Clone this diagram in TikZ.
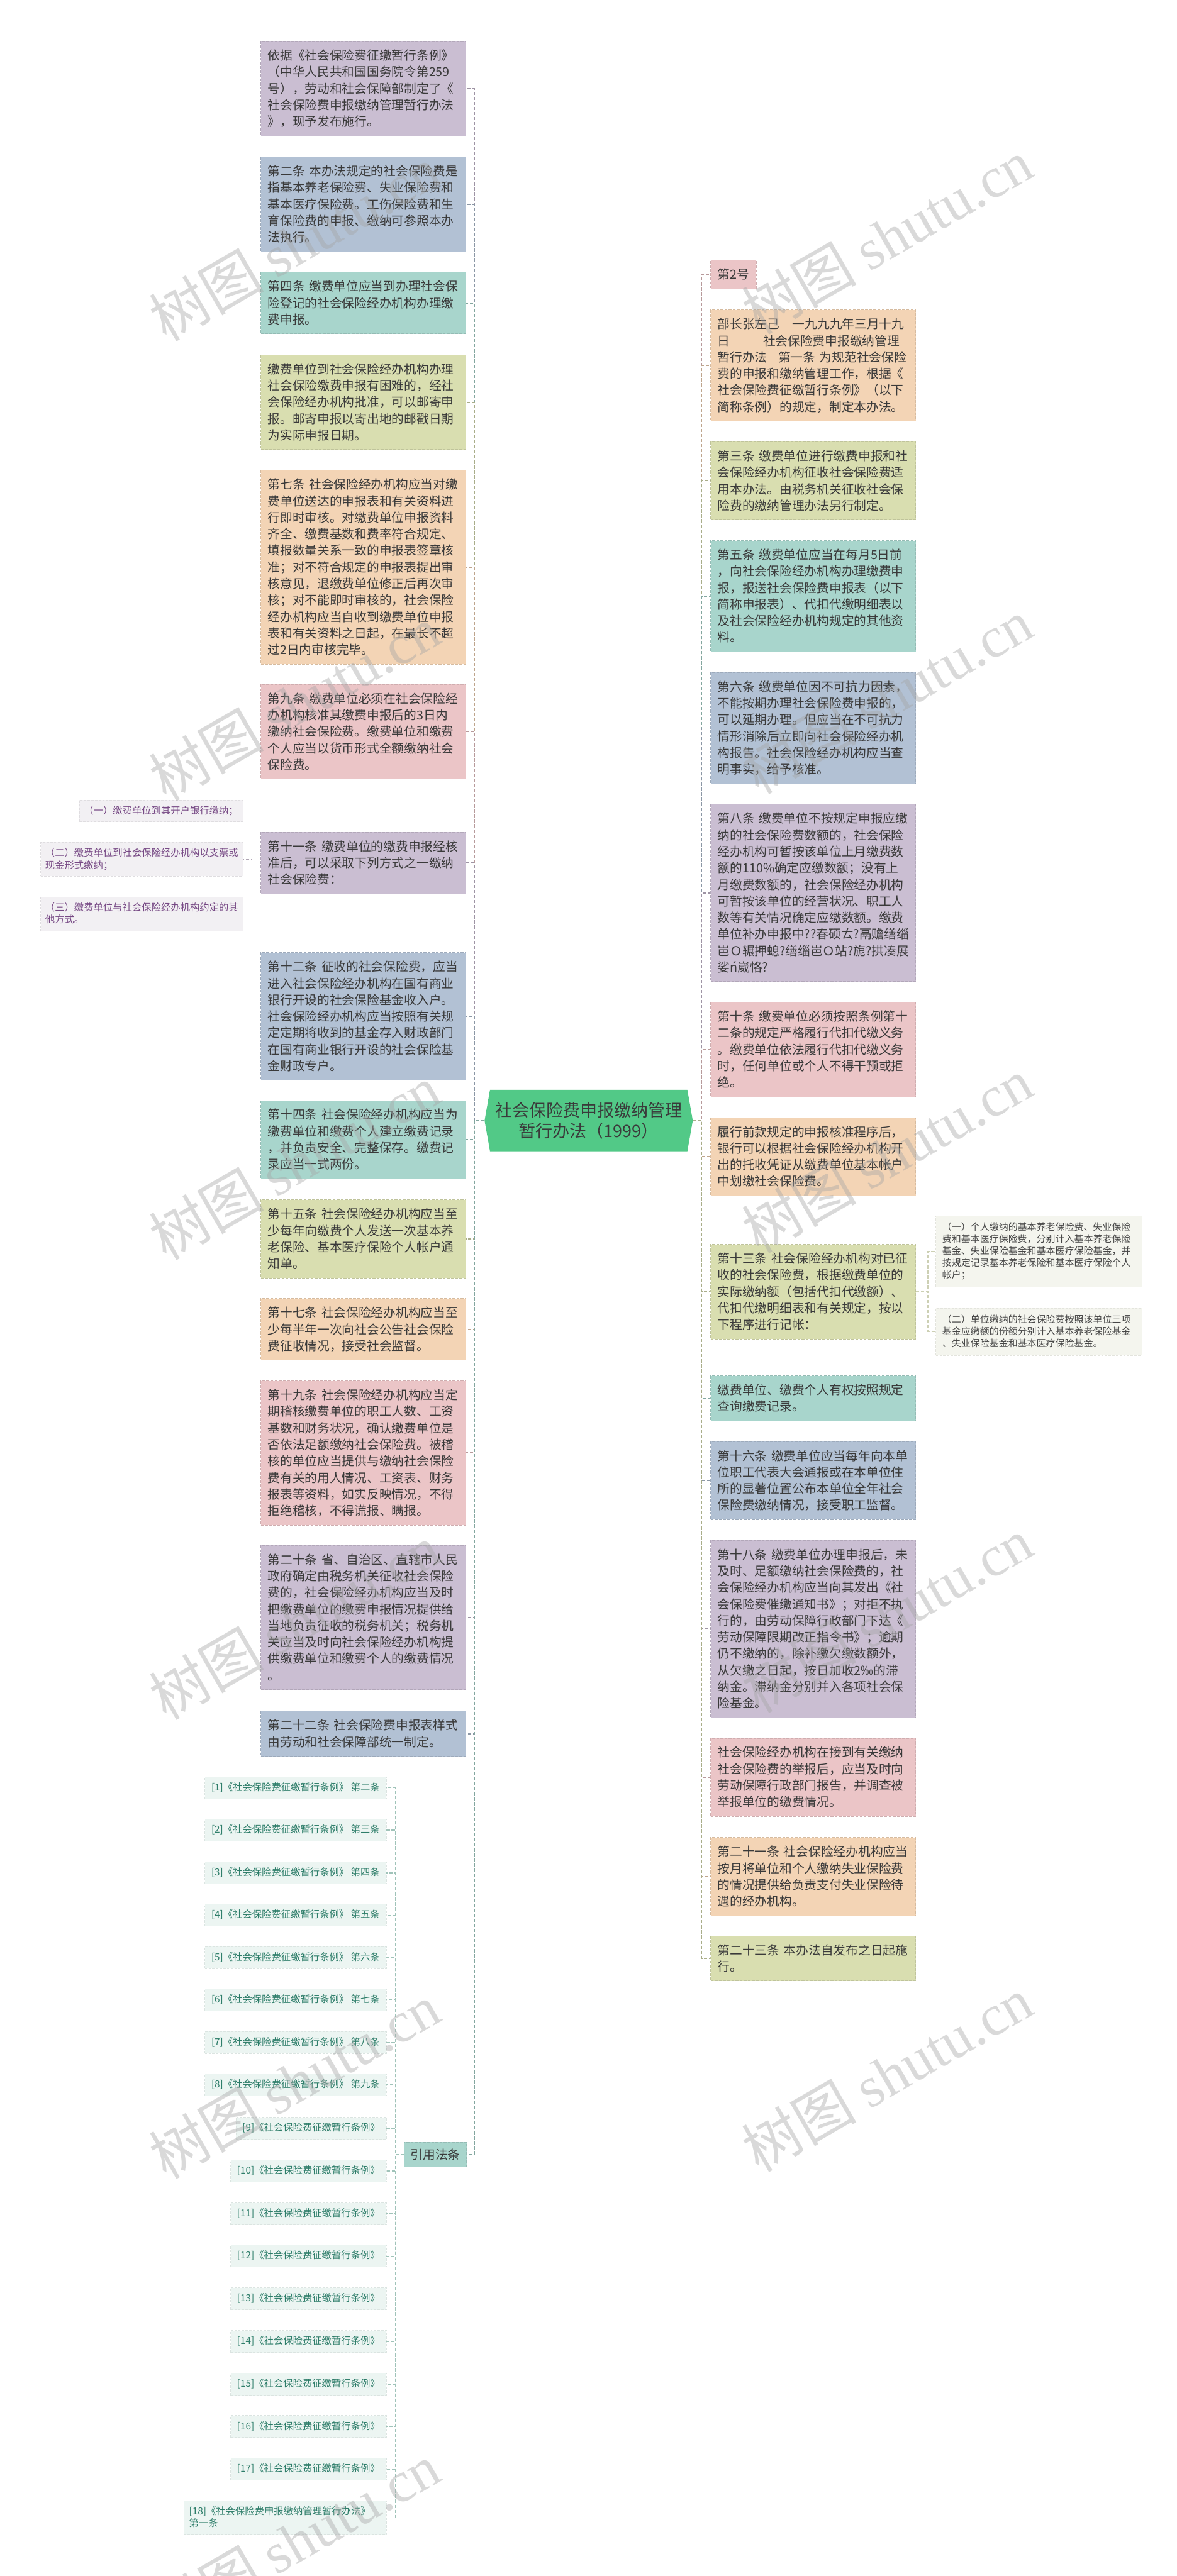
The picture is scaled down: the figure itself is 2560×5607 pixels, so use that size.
\documentclass[tikz,border=0pt]{standalone}
\usepackage{fontspec}
\setmainfont{Noto Sans CJK SC}
\newfontfamily\wmfont{Liberation Serif}
\usetikzlibrary{shapes.symbols}
\definecolor{cpur}{RGB}{202,190,210}
\definecolor{cblu}{RGB}{178,193,212}
\definecolor{ctea}{RGB}{168,213,204}
\definecolor{cyel}{RGB}{217,222,176}
\definecolor{cpea}{RGB}{243,212,181}
\definecolor{cpin}{RGB}{235,197,199}
\definecolor{croot}{RGB}{82,201,135}
\definecolor{ctxt}{RGB}{58,58,58}
\definecolor{csubbg}{RGB}{242,240,243}
\definecolor{csubtx}{RGB}{118,72,132}
\definecolor{csubln}{RGB}{175,165,180}
\definecolor{citbg}{RGB}{236,245,242}
\definecolor{cittx}{RGB}{45,125,105}
\definecolor{citln}{RGB}{160,195,185}
\definecolor{crsbg}{RGB}{244,245,238}
\definecolor{crstx}{RGB}{70,70,70}
\definecolor{crsln}{RGB}{205,208,180}
\tikzset{
  mboxbase/.style={anchor=north west, fill=#1, draw=#1!88!black, dash pattern=on 6pt off 3pt, line width=1.2pt,
    align=left, inner xsep=15pt, inner ysep=13pt, text=ctxt, font=\fontsize{27}{36}\selectfont,
    execute at begin node=\rule{0pt}{28pt}, execute at end node=\rule[-8pt]{0pt}{8pt}},
  mbox/.style={mboxbase=#1, text width=416pt},
  subbox/.style={anchor=north east, fill=csubbg, draw=csubbg!92!black, dash pattern=on 5pt off 3pt, line width=1pt,
    align=left, inner xsep=10pt, inner ysep=10pt, text=csubtx, font=\fontsize{21}{27}\selectfont,
    execute at begin node=\rule{0pt}{20pt}, execute at end node=\rule[-7pt]{0pt}{7pt}},
  citbox/.style={anchor=north east, fill=citbg, draw=citbg!93!black, dash pattern=on 5pt off 3pt, line width=1pt,
    align=left, inner xsep=14pt, inner ysep=10.5pt, text=cittx, font=\fontsize{21}{27}\selectfont,
    execute at begin node=\rule{0pt}{20pt}, execute at end node=\rule[-7pt]{0pt}{7pt}},
  rsbox/.style={anchor=north west, fill=crsbg, draw=crsbg!93!black, dash pattern=on 5pt off 3pt, line width=1pt,
    align=left, text width=420pt, inner xsep=14pt, inner ysep=12.5pt, text=crstx, font=\fontsize{20.5}{26}\selectfont,
    execute at begin node=\rule{0pt}{19pt}, execute at end node=\rule[-7pt]{0pt}{7pt}},
  conn/.style={draw=#1, dash pattern=on 7pt off 4pt, line width=2.4pt},
  wm/.style={rotate=30, font=\fontsize{125}{125}\selectfont, text=gray!70, opacity=0.42}
}
\begin{document}
\begin{tikzpicture}[x=1pt,y=-1pt]
\useasboundingbox (0,0) rectangle (2560,5607);
\fill[white] (0,0) rectangle (2560,5607);

% root
\node[signal, signal to=west and east, signal pointer angle=160, fill=croot, minimum width=453pt, minimum height=134pt,
  inner sep=0pt, align=center, text=ctxt, font=\fontsize{37}{46}\selectfont] (root) at (1281,2439) {社会保险费申报缴纳管理\\暂行办法（1999）};
\coordinate (lsp) at (1032,2439);
\coordinate (rsp) at (1527,2439);

% left column
\node[mbox=cpur] (L1) at (567,89) {依据《社会保险费征缴暂行条例》\\（中华人民共和国国务院令第259\\号），劳动和社会保障部制定了《\\社会保险费申报缴纳管理暂行办法\\》，现予发布施行。};
\node[mbox=cblu] (L2) at (567,341) {第二条 本办法规定的社会保险费是\\指基本养老保险费、失业保险费和\\基本医疗保险费。工伤保险费和生\\育保险费的申报、缴纳可参照本办\\法执行。};
\node[mbox=ctea] (L3) at (567,592) {第四条 缴费单位应当到办理社会保\\险登记的社会保险经办机构办理缴\\费申报。};
\node[mbox=cyel] (L4) at (567,772) {缴费单位到社会保险经办机构办理\\社会保险缴费申报有困难的，经社\\会保险经办机构批准，可以邮寄申\\报。邮寄申报以寄出地的邮戳日期\\为实际申报日期。};
\node[mbox=cpea] (L5) at (567,1023) {第七条 社会保险经办机构应当对缴\\费单位送达的申报表和有关资料进\\行即时审核。对缴费单位申报资料\\齐全、缴费基数和费率符合规定、\\填报数量关系一致的申报表签章核\\准；对不符合规定的申报表提出审\\核意见，退缴费单位修正后再次审\\核；对不能即时审核的，社会保险\\经办机构应当自收到缴费单位申报\\表和有关资料之日起，在最长不超\\过2日内审核完毕。};
\node[mbox=cpin] (L6) at (567,1489) {第九条 缴费单位必须在社会保险经\\办机构核准其缴费申报后的3日内\\缴纳社会保险费。缴费单位和缴费\\个人应当以货币形式全额缴纳社会\\保险费。};
\node[mbox=cpur] (L7) at (567,1811) {第十一条 缴费单位的缴费申报经核\\准后，可以采取下列方式之一缴纳\\社会保险费：};
\node[mbox=cblu] (L8) at (567,2073) {第十二条 征收的社会保险费，应当\\进入社会保险经办机构在国有商业\\银行开设的社会保险基金收入户。\\社会保险经办机构应当按照有关规\\定定期将收到的基金存入财政部门\\在国有商业银行开设的社会保险基\\金财政专户。};
\node[mbox=ctea] (L9) at (567,2395) {第十四条 社会保险经办机构应当为\\缴费单位和缴费个人建立缴费记录\\，并负责安全、完整保存。缴费记\\录应当一式两份。};
\node[mbox=cyel] (L10) at (567,2611) {第十五条 社会保险经办机构应当至\\少每年向缴费个人发送一次基本养\\老保险、基本医疗保险个人帐户通\\知单。};
\node[mbox=cpea] (L11) at (567,2826) {第十七条 社会保险经办机构应当至\\少每半年一次向社会公告社会保险\\费征收情况，接受社会监督。};
\node[mbox=cpin] (L12) at (567,3005) {第十九条 社会保险经办机构应当定\\期稽核缴费单位的职工人数、工资\\基数和财务状况，确认缴费单位是\\否依法足额缴纳社会保险费。被稽\\核的单位应当提供与缴纳社会保险\\费有关的用人情况、工资表、财务\\报表等资料，如实反映情况，不得\\拒绝稽核，不得谎报、瞒报。};
\node[mbox=cpur] (L13) at (567,3363) {第二十条 省、自治区、直辖市人民\\政府确定由税务机关征收社会保险\\费的，社会保险经办机构应当及时\\把缴费单位的缴费申报情况提供给\\当地负责征收的税务机关；税务机\\关应当及时向社会保险经办机构提\\供缴费单位和缴费个人的缴费情况\\。};
\node[mbox=cblu] (L14) at (567,3724) {第二十二条 社会保险费申报表样式\\由劳动和社会保障部统一制定。};
\node[mboxbase=ctea, inner xsep=14pt, inner ysep=9pt] (cite) at (879,4662) {引用法条};

% sub boxes of L7
\node[subbox] (S1) at (529,1741) {（一）缴费单位到其开户银行缴纳；};
\node[subbox, text width=420pt] (S2) at (529,1833) {（二）缴费单位到社会保险经办机构以支票或\\现金形式缴纳；};
\node[subbox, text width=420pt] (S3) at (529,1952) {（三）缴费单位与社会保险经办机构约定的其\\他方式。};

% citations
\node[citbox] (C1) at (841,3867) {[1]《社会保险费征缴暂行条例》 第二条};
\node[citbox] (C2) at (841,3959) {[2]《社会保险费征缴暂行条例》 第三条};
\node[citbox] (C3) at (841,4052) {[3]《社会保险费征缴暂行条例》 第四条};
\node[citbox] (C4) at (841,4144) {[4]《社会保险费征缴暂行条例》 第五条};
\node[citbox] (C5) at (841,4236) {[5]《社会保险费征缴暂行条例》 第六条};
\node[citbox] (C6) at (841,4328) {[6]《社会保险费征缴暂行条例》 第七条};
\node[citbox] (C7) at (841,4421) {[7]《社会保险费征缴暂行条例》 第八条};
\node[citbox] (C8) at (841,4513) {[8]《社会保险费征缴暂行条例》 第九条};
\node[citbox] (C9) at (841,4608) {[9]《社会保险费征缴暂行条例》};
\node[citbox] (C10) at (841,4701) {[10]《社会保险费征缴暂行条例》};
\node[citbox] (C11) at (841,4794) {[11]《社会保险费征缴暂行条例》};
\node[citbox] (C12) at (841,4886) {[12]《社会保险费征缴暂行条例》};
\node[citbox] (C13) at (841,4979) {[13]《社会保险费征缴暂行条例》};
\node[citbox] (C14) at (841,5072) {[14]《社会保险费征缴暂行条例》};
\node[citbox] (C15) at (841,5165) {[15]《社会保险费征缴暂行条例》};
\node[citbox] (C16) at (841,5257) {[16]《社会保险费征缴暂行条例》};
\node[citbox] (C17) at (841,5350) {[17]《社会保险费征缴暂行条例》};
\node[citbox, text width=418pt, inner xsep=11pt] (C18) at (841,5442) {[18]《社会保险费申报缴纳管理暂行办法》\\第一条};

% right column
\node[mboxbase=cpin] (R1) at (1546,566) {第2号};
\node[mbox=cpea] (R2) at (1546,674) {部长张左己\hspace{28pt}一九九九年三月十九\\日\hspace{72pt}社会保险费申报缴纳管理\\暂行办法\hspace{24pt}第一条~为规范社会保险\\费的申报和缴纳管理工作，根据《\\社会保险费征缴暂行条例》（以下\\简称条例）的规定，制定本办法。};
\node[mbox=cyel] (R3) at (1546,961) {第三条 缴费单位进行缴费申报和社\\会保险经办机构征收社会保险费适\\用本办法。由税务机关征收社会保\\险费的缴纳管理办法另行制定。};
\node[mbox=ctea] (R4) at (1546,1176) {第五条 缴费单位应当在每月5日前\\，向社会保险经办机构办理缴费申\\报，报送社会保险费申报表（以下\\简称申报表）、代扣代缴明细表以\\及社会保险经办机构规定的其他资\\料。};
\node[mbox=cblu] (R5) at (1546,1463) {第六条 缴费单位因不可抗力因素，\\不能按期办理社会保险费申报的，\\可以延期办理。但应当在不可抗力\\情形消除后立即向社会保险经办机\\构报告。社会保险经办机构应当查\\明事实，给予核准。};
\node[mbox=cpur] (R6) at (1546,1750) {第八条 缴费单位不按规定申报应缴\\纳的社会保险费数额的，社会保险\\经办机构可暂按该单位上月缴费数\\额的110\%确定应缴数额；没有上\\月缴费数额的，社会保险经办机构\\可暂按该单位的经营状况、职工人\\数等有关情况确定应缴数额。缴费\\单位补办申报中??春硕ㄊ?鬲赡缮缁\\岜Ｏ辗押螅?缮缁岜Ｏ站?旎?拱凑展\\娑ń崴恪?};
\node[mbox=cpin] (R7) at (1546,2181) {第十条 缴费单位必须按照条例第十\\二条的规定严格履行代扣代缴义务\\。缴费单位依法履行代扣代缴义务\\时，任何单位或个人不得干预或拒\\绝。};
\node[mbox=cpea] (R8) at (1546,2432) {履行前款规定的申报核准程序后，\\银行可以根据社会保险经办机构开\\出的托收凭证从缴费单位基本帐户\\中划缴社会保险费。};
\node[mbox=cyel] (R9) at (1546,2708) {第十三条 社会保险经办机构对已征\\收的社会保险费，根据缴费单位的\\实际缴纳额（包括代扣代缴额）、\\代扣代缴明细表和有关规定，按以\\下程序进行记帐：};
\node[mbox=ctea] (R10) at (1546,2994) {缴费单位、缴费个人有权按照规定\\查询缴费记录。};
\node[mbox=cblu] (R11) at (1546,3137) {第十六条 缴费单位应当每年向本单\\位职工代表大会通报或在本单位住\\所的显著位置公布本单位全年社会\\保险费缴纳情况，接受职工监督。};
\node[mbox=cpur] (R12) at (1546,3352) {第十八条 缴费单位办理申报后，未\\及时、足额缴纳社会保险费的，社\\会保险经办机构应当向其发出《社\\会保险费催缴通知书》；对拒不执\\行的，由劳动保障行政部门下达《\\劳动保障限期改正指令书》；逾期\\仍不缴纳的，除补缴欠缴数额外，\\从欠缴之日起，按日加收2‰的滞\\纳金。滞纳金分别并入各项社会保\\险基金。};
\node[mbox=cpin] (R13) at (1546,3783) {社会保险经办机构在接到有关缴纳\\社会保险费的举报后，应当及时向\\劳动保障行政部门报告，并调查被\\举报单位的缴费情况。};
\node[mbox=cpea] (R14) at (1546,3999) {第二十一条 社会保险经办机构应当\\按月将单位和个人缴纳失业保险费\\的情况提供给负责支付失业保险待\\遇的经办机构。};
\node[mbox=cyel] (R15) at (1546,4213) {第二十三条 本办法自发布之日起施\\行。};

% sub boxes of R9
\node[rsbox] (RS1) at (2036,2646) {（一）个人缴纳的基本养老保险费、失业保险\\费和基本医疗保险费，分别计入基本养老保险\\基金、失业保险基金和基本医疗保险基金，并\\按规定记录基本养老保险和基本医疗保险个人\\帐户；};
\node[rsbox] (RS2) at (2036,2847) {（二）单位缴纳的社会保险费按照该单位三项\\基金应缴额的份额分别计入基本养老保险基金\\、失业保险基金和基本医疗保险基金。};

% connectors: left
\foreach \n/\c in {L1/cpur,L2/cblu,L3/ctea,L4/cyel,L5/cpea,L6/cpin,L7/cpur,L8/cblu,L9/ctea,L10/cyel,L11/cpea,L12/cpin,L13/cpur,L14/cblu,cite/ctea}
  \draw[conn=\c!78!black] (root.west) -- (lsp) |- (\n.east);
% connectors: right
\foreach \n/\c in {R1/cpin,R2/cpea,R3/cyel,R4/ctea,R5/cblu,R6/cpur,R7/cpin,R8/cpea,R9/cyel,R10/ctea,R11/cblu,R12/cpur,R13/cpin,R14/cpea,R15/cyel}
  \draw[conn=\c!78!black] (root.east) -- (rsp) |- (\n.west);
% sub connectors
\foreach \n in {S1,S2,S3}
  \draw[conn=csubln, line width=1.8pt] (L7.west) -- ++(-19,0) |- (\n.east);
\foreach \n in {C1,C2,C3,C4,C5,C6,C7,C8,C9,C10,C11,C12,C13,C14,C15,C16,C17,C18}
  \draw[conn=citln, line width=1.8pt] (cite.west) -- ++(-19,0) |- (\n.east);
\foreach \n in {RS1,RS2}
  \draw[conn=crsln, line width=1.8pt] (R9.east) -- ++(26,0) |- (\n.west);

% watermarks
\foreach \i/\x/\y in {1/640/530,2/640/1530,3/640/2530,4/640/3530,5/640/4530,6/640/5530,7/1930/515,8/1930/1515,9/1930/2515,10/1930/3515,11/1930/4515}
  \node[wm] (wm\i) at (\x,\y) {树图 {\wmfont shutu.cn}};
\end{tikzpicture}
\end{document}
